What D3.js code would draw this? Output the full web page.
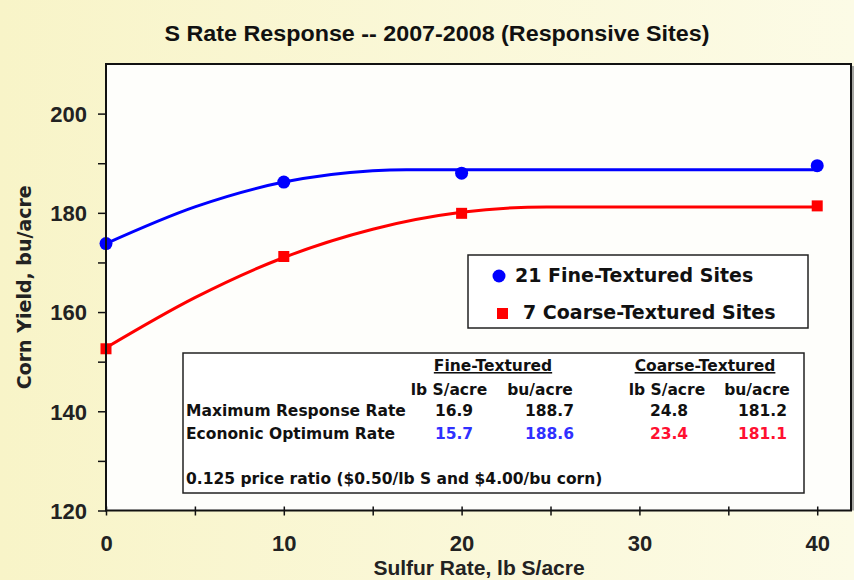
<!DOCTYPE html>
<html lang="en">
<head>
<meta charset="UTF-8">
<title>S Rate Response</title>
<script src="https://cdn.jsdelivr.net/npm/d3@7/dist/d3.min.js"></script>
<style>
    body { margin: 0; background: #fbf8d8; }
    svg { display: block; }
</style>
</head>
<body>
<script>
    var sulfurRates = [0, 10, 20, 40];
    var fineYield = [173.8, 186.2, 188.0, 189.5];
    var coarseYield = [152.6, 171.2, 179.9, 181.4];

    // fitted quadratic-plateau curves
    var fineFitRate = [0, 5, 10, 15, 16.9, 40];
    var fineFitYield = [173.8, 181.2, 186.2, 188.5, 188.7, 188.7];
    var coarseFitRate = [0, 5, 10, 15, 20, 24.8, 40];
    var coarseFitYield = [152.8, 162.9, 171.0, 176.7, 180.1, 181.2, 181.2];

    var xTicks = [0, 10, 20, 30, 40];
    var xMinor = [5, 15, 25, 35];
    var yTicks = [120, 140, 160, 180, 200];
    var yMinor = [130, 150, 170, 190];

    var legendLabels = ["21 Fine-Textured Sites", "7 Coarse-Textured Sites"];

    // inset table
    var tableRows = ["Maximum Response Rate", "Econonic Optimum Rate"];
    var fineRate = ["16.9", "15.7"];
    var fineBu = ["188.7", "188.6"];
    var coarseRate = ["24.8", "23.4"];
    var coarseBu = ["181.2", "181.1"];
    var priceNote = "0.125 price ratio ($0.50/lb S and $4.00/bu corn)";

    var width = 854, height = 580;
    var plotL = 106, plotR = 851, plotT = 64, plotB = 510.5;

    var svg = d3.select("body").append("svg")
        .attr("width", width)
        .attr("height", height);

    var defs = svg.append("defs");
    var grad = defs.append("linearGradient").attr("id", "bg")
        .attr("x1", "0").attr("y1", "0").attr("x2", "1").attr("y2", "0");
    grad.append("stop").attr("offset", "0").attr("stop-color", "#f8f4c8");
    grad.append("stop").attr("offset", "1").attr("stop-color", "#fcfbe6");

    svg.append("rect").attr("width", width).attr("height", height).attr("fill", "url(#bg)");

    var x = d3.scaleLinear().domain([0, 41.9]).range([plotL, plotR]);
    var y = d3.scaleLinear().domain([120, 210]).range([plotB, plotT]);

    // plot area
    svg.append("rect")
        .attr("x", plotL).attr("y", plotT)
        .attr("width", plotR - plotL).attr("height", plotB - plotT)
        .attr("fill", "#fefefb");
    svg.append("line")
        .attr("x1", plotR + 2).attr("x2", plotR + 2)
        .attr("y1", plotT + 2).attr("y2", plotB)
        .attr("stroke", "#888").attr("stroke-width", 1.5);

    // title
    svg.append("text")
        .attr("x", 437).attr("y", 41)
        .attr("text-anchor", "middle")
        .attr("textLength", 545)
        .attr("lengthAdjust", "spacingAndGlyphs")
        .style("font", "bold 22px 'Liberation Sans Narrow', 'Arial Narrow', 'Liberation Sans', sans-serif")
        .style("fill", "#111")
        .text("S Rate Response -- 2007-2008 (Responsive Sites)");

    // lines
    var fitLine = d3.line()
        .x(function (d) { return x(d[0]); })
        .y(function (d) { return y(d[1]); })
        .curve(d3.curveMonotoneX);

    svg.append("path")
        .datum(d3.zip(coarseFitRate, coarseFitYield))
        .attr("d", fitLine)
        .attr("fill", "none")
        .attr("stroke", "#ff0000")
        .attr("stroke-width", 3);

    svg.append("path")
        .datum(d3.zip(fineFitRate, fineFitYield))
        .attr("d", fitLine)
        .attr("fill", "none")
        .attr("stroke", "#0000ff")
        .attr("stroke-width", 3);

    // markers
    svg.append("g").selectAll("rect")
        .data(d3.zip(sulfurRates, coarseYield))
        .enter().append("rect")
        .attr("x", function (d) { return x(d[0]) - 5.5; })
        .attr("y", function (d) { return y(d[1]) - 5.5; })
        .attr("width", 11).attr("height", 11)
        .attr("fill", "#ff0000");

    svg.append("g").selectAll("circle")
        .data(d3.zip(sulfurRates, fineYield))
        .enter().append("circle")
        .attr("cx", function (d) { return x(d[0]); })
        .attr("cy", function (d) { return y(d[1]); })
        .attr("r", 6.5)
        .attr("fill", "#0000ff");

    // axes
    var tickFont = "bold 22px 'Liberation Sans', Arial, sans-serif";

    var yAxis = svg.append("g")
        .attr("transform", "translate(" + plotL + ",0)")
        .call(d3.axisLeft(y).tickValues(yTicks).tickSize(8).tickSizeOuter(0));
    yAxis.select(".domain").remove();
    yAxis.selectAll("line").attr("stroke", "#111").attr("stroke-width", 1.5);
    yAxis.selectAll("text")
        .attr("x", -19).attr("dy", "0.36em")
        .style("font", tickFont).style("fill", "#222");

    var yAxisMinor = svg.append("g")
        .attr("transform", "translate(" + plotL + ",0)")
        .call(d3.axisLeft(y).tickValues(yMinor).tickSize(8).tickFormat(""));
    yAxisMinor.select(".domain").remove();
    yAxisMinor.selectAll("line").attr("stroke", "#111").attr("stroke-width", 1.5);

    var xAxis = svg.append("g")
        .attr("transform", "translate(0," + plotB + ")")
        .call(d3.axisBottom(x).tickValues(xTicks).tickSize(5).tickSizeOuter(0));
    xAxis.select(".domain").remove();
    xAxis.selectAll("line").attr("y1", -4).attr("stroke", "#111").attr("stroke-width", 1.5);
    xAxis.selectAll("text")
        .attr("y", 40).attr("dy", 0)
        .style("font", tickFont).style("fill", "#222");

    var xAxisMinor = svg.append("g")
        .attr("transform", "translate(0," + plotB + ")")
        .call(d3.axisBottom(x).tickValues(xMinor).tickSize(5).tickFormat(""));
    xAxisMinor.select(".domain").remove();
    xAxisMinor.selectAll("line").attr("y1", -4).attr("stroke", "#111").attr("stroke-width", 1.5);

    // frame
    svg.append("rect")
        .attr("x", plotL).attr("y", plotT)
        .attr("width", plotR - plotL).attr("height", plotB - plotT)
        .attr("fill", "none")
        .attr("stroke", "#111").attr("stroke-width", 2);

    // axis titles
    svg.append("text")
        .attr("x", 479).attr("y", 575)
        .attr("text-anchor", "middle")
        .style("font", "bold 21px 'Liberation Sans', Arial, sans-serif")
        .style("fill", "#222")
        .text("Sulfur Rate, lb S/acre");

    svg.append("text")
        .attr("transform", "translate(31," + ((plotT + plotB) / 2) + ") rotate(-90)")
        .attr("text-anchor", "middle")
        .style("font", "bold 19px 'DejaVu Sans', Verdana, sans-serif")
        .style("fill", "#222")
        .text("Corn Yield, bu/acre");

    // legend
    var legendFont = "bold 19px 'DejaVu Sans', Verdana, sans-serif";
    var legend = svg.append("g");
    legend.append("rect")
        .attr("x", 468).attr("y", 255)
        .attr("width", 340).attr("height", 73)
        .attr("fill", "#ffffff")
        .attr("stroke", "#222").attr("stroke-width", 1.5);
    legend.append("circle")
        .attr("cx", 499).attr("cy", 276).attr("r", 6.5)
        .attr("fill", "#0000ff");
    legend.append("rect")
        .attr("x", 497).attr("y", 308).attr("width", 11).attr("height", 11)
        .attr("fill", "#ff0000");
    legend.append("text")
        .attr("x", 515).attr("y", 282)
        .style("font", legendFont).style("fill", "#111")
        .text(legendLabels[0]);
    legend.append("text")
        .attr("x", 523).attr("y", 319)
        .style("font", legendFont).style("fill", "#111")
        .text(legendLabels[1]);

    // inset table
    var tableFont = "bold 15.5px 'DejaVu Sans', Verdana, sans-serif";
    var tbl = svg.append("g");
    tbl.append("rect")
        .attr("x", 183).attr("y", 353)
        .attr("width", 621).attr("height", 140)
        .attr("fill", "#ffffff")
        .attr("stroke", "#222").attr("stroke-width", 1.5);

    function cell(tx, ty, str, anchor, color) {
        return tbl.append("text")
            .attr("x", tx).attr("y", ty)
            .attr("text-anchor", anchor)
            .style("font", tableFont)
            .style("fill", color || "#111")
            .text(str);
    }

    cell(493, 371, "Fine-Textured", "middle").style("text-decoration", "underline");
    cell(705, 371, "Coarse-Textured", "middle").style("text-decoration", "underline");
    cell(449, 395, "lb S/acre", "middle");
    cell(540, 395, "bu/acre", "middle");
    cell(667, 395, "lb S/acre", "middle");
    cell(757, 395, "bu/acre", "middle");

    var rowY = [416, 439];
    var fineColors = ["#111", "#3030ff"];
    var coarseColors = ["#111", "#ff1030"];
    tableRows.forEach(function (name, i) {
        cell(186, rowY[i], name, "start");
        cell(454, rowY[i], fineRate[i], "middle", fineColors[i]);
        cell(574, rowY[i], fineBu[i], "end", fineColors[i]);
        cell(669, rowY[i], coarseRate[i], "middle", coarseColors[i]);
        cell(787, rowY[i], coarseBu[i], "end", coarseColors[i]);
    });
    cell(186, 484, priceNote, "start");
</script>
</body>
</html>
